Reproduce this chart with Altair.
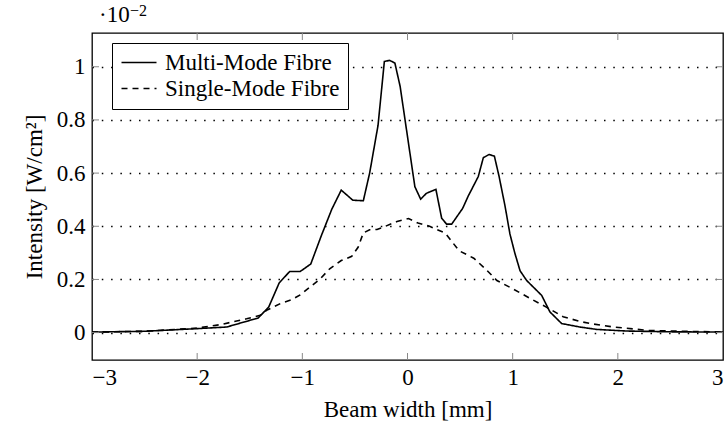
import altair as alt
import pandas as pd

# Multi-mode fibre profile
mm_x = [-3.0, -2.5, -2.0, -1.72, -1.42, -1.32, -1.22, -1.12, -1.02, -0.92, -0.82, -0.72,
        -0.63, -0.52, -0.42, -0.36, -0.28, -0.22, -0.17, -0.12, -0.07, 0.07, 0.125, 0.18,
        0.27, 0.325, 0.372, 0.42, 0.524, 0.578, 0.673, 0.721, 0.775, 0.826, 0.87, 0.927,
        0.974, 1.02, 1.07, 1.133, 1.276, 1.354, 1.466, 1.64, 1.8, 2.08, 2.5, 3.0]
mm_y = [0.002, 0.005, 0.015, 0.021, 0.055, 0.096, 0.187, 0.23, 0.23, 0.258, 0.364, 0.464,
        0.536, 0.498, 0.496, 0.60, 0.78, 1.02, 1.024, 1.014, 0.926, 0.549, 0.502, 0.524,
        0.539, 0.43, 0.408, 0.408, 0.467, 0.514, 0.587, 0.658, 0.670, 0.664, 0.589, 0.477,
        0.371, 0.30, 0.233, 0.196, 0.14, 0.078, 0.034, 0.021, 0.012, 0.006, 0.003, 0.002]

# Single-mode fibre profile
sm_x = [-3.0, -2.5, -2.0, -1.78, -1.53, -1.40, -1.34, -1.21, -1.10, -1.02, -0.83, -0.74,
        -0.63, -0.53, -0.47, -0.42, -0.36, -0.29, -0.21, -0.10, 0.01, 0.10, 0.21, 0.36,
        0.49, 0.63, 0.74, 0.85, 1.0, 1.16, 1.32, 1.48, 1.64, 1.74, 1.96, 2.3, 3.0]
sm_y = [0.002, 0.005, 0.017, 0.03, 0.052, 0.065, 0.084, 0.109, 0.124, 0.142, 0.202, 0.24,
        0.271, 0.287, 0.321, 0.375, 0.387, 0.388, 0.40, 0.418, 0.429, 0.412, 0.40, 0.374,
        0.308, 0.28, 0.24, 0.196, 0.165, 0.13, 0.096, 0.06, 0.042, 0.034, 0.021, 0.008, 0.002]

series_names = ["Multi-Mode Fibre", "Single-Mode Fibre"]
x_ticks = [-3, -2, -1, 0, 1, 2, 3]
y_ticks = [0, 0.2, 0.4, 0.6, 0.8, 1.0]

df = pd.concat([
    pd.DataFrame({"x": mm_x, "y": mm_y, "s": series_names[0]}),
    pd.DataFrame({"x": sm_x, "y": sm_y, "s": series_names[1]}),
])

W, H = 631, 327
FONT = "Liberation Serif"
FS = 23
xs = alt.Scale(domain=[-3, 3], nice=False, zero=False)
ys = alt.Scale(domain=[-0.103, 1.127], nice=False, zero=False)

x_axis = alt.Axis(values=x_ticks, format="d", grid=False, ticks=False, domain=False,
                  labelPadding=6, titlePadding=9,
                  labelFont=FONT, labelFontSize=FS, titleFont=FONT, titleFontSize=FS,
                  labelColor="black", titleColor="black", titleFontWeight="normal")
y_axis = alt.Axis(values=y_ticks, format=".1~f", grid=True, gridDash=[1.5, 7.8],
                  gridColor="black", gridWidth=1.3, gridOpacity=1, ticks=False, domain=False,
                  labelPadding=7, titlePadding=10,
                  labelFont=FONT, labelFontSize=FS, titleFont=FONT, titleFontSize=FS,
                  labelColor="black", titleColor="black", titleFontWeight="normal")
X_TITLE = "Beam width [mm]"
Y_TITLE = "Intensity [W/cm²]"

lines = alt.Chart(df).mark_line(strokeWidth=1.6, color="black", clip=True).encode(
    x=alt.X("x:Q", scale=xs, title=X_TITLE, axis=x_axis),
    y=alt.Y("y:Q", scale=ys, title=Y_TITLE, axis=y_axis),
    strokeDash=alt.StrokeDash("s:N", sort=series_names,
                              scale=alt.Scale(domain=series_names, range=[[1, 0], [6, 5]]),
                              legend=alt.Legend(title=None, orient="none", legendX=20, legendY=10,
                                                symbolType="M-1,0H2.5", symbolSize=400,
                                                symbolStrokeWidth=1.6, symbolStrokeColor="black",
                                                symbolFillColor="transparent",
                                                labelFont=FONT, labelFontSize=FS, labelColor="black",
                                                labelLimit=400,
                                                labelOffset=22, rowPadding=2, padding=8,
                                                strokeColor="black", fillColor="white",
                                                cornerRadius=0)),
    detail="s:N",
)

xt = pd.DataFrame({"v": x_ticks[1:-1]})
yt = pd.DataFrame({"v": y_ticks})
tick_style = dict(color="#888888", strokeWidth=1)
xb = alt.Chart(xt).mark_rule(**tick_style).encode(
    x=alt.X("v:Q", scale=xs, title=X_TITLE, axis=x_axis), y=alt.value(H), y2=alt.value(H - 7))
xtp = alt.Chart(xt).mark_rule(**tick_style).encode(
    x=alt.X("v:Q", scale=xs, title=X_TITLE, axis=x_axis), y=alt.value(0), y2=alt.value(7))
yl = alt.Chart(yt).mark_rule(**tick_style).encode(
    y=alt.Y("v:Q", scale=ys, title=Y_TITLE, axis=y_axis), x=alt.value(0), x2=alt.value(7))
yr = alt.Chart(yt).mark_rule(**tick_style).encode(
    y=alt.Y("v:Q", scale=ys, title=Y_TITLE, axis=y_axis), x=alt.value(W - 7), x2=alt.value(W))

mult = alt.Chart(pd.DataFrame({"t": ["·10"]})).mark_text(
    font=FONT, fontSize=FS, align="left", baseline="alphabetic", color="black"
).encode(text="t:N", x=alt.value(7), y=alt.value(-11))
expo = alt.Chart(pd.DataFrame({"t": ["−2"]})).mark_text(
    font=FONT, fontSize=16, align="left", baseline="alphabetic", color="black"
).encode(text="t:N", x=alt.value(38), y=alt.value(-17))

chart = alt.layer(lines, xb, xtp, yl, yr, mult, expo).properties(
    width=W, height=H,
    background="white",
    autosize=alt.AutoSizeParams(type="none"),
    padding={"left": 92, "top": 33, "right": 5, "bottom": 70},
).configure_view(stroke="black", strokeWidth=1.3)

chart.save("out.html", embed_options={"renderer": "svg", "actions": False})
